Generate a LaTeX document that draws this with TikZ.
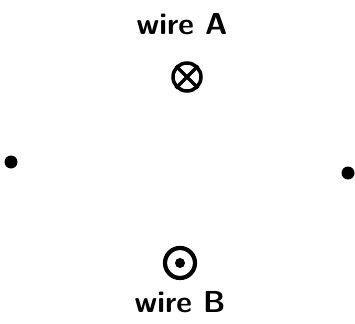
\documentclass[tikz,border=0pt]{standalone}
\usepackage{amsmath}

\begin{document}
\begin{tikzpicture}[line width=1pt,
    wire/.style={circle,draw,line width=2pt,minimum size=0.56cm,inner sep=0pt},
    pt/.style={circle,fill,minimum size=0.26cm,inner sep=0pt},
    lbl/.style={font=\LARGE\sffamily\bfseries}]

        % Frame of the picture
        \useasboundingbox (0,0) rectangle (7.1,6.46);

        % Wire A, current into the page
        \node[lbl] (labelA) at (3.64,5.98) {wire A};
        \node[wire] (wireA) at (3.74,4.92) {};
        \draw[line width=2pt] (wireA.north west) -- (wireA.south east);
        \draw[line width=2pt] (wireA.north east) -- (wireA.south west);

        % Points on either side
        \node[pt] (left) at (0.22,3.22) {};
        \node[pt] (right) at (6.96,3.0) {};

        % Wire B, current out of the page
        \node[wire,line width=2.4pt,minimum size=0.6cm] (wireB) at (3.6,1.2) {};
        \node[pt,minimum size=0.2cm] (coreB) at (wireB) {};
        \node[lbl] (labelB) at (3.6,0.42) {wire B};

    \end{tikzpicture}
\end{document}
